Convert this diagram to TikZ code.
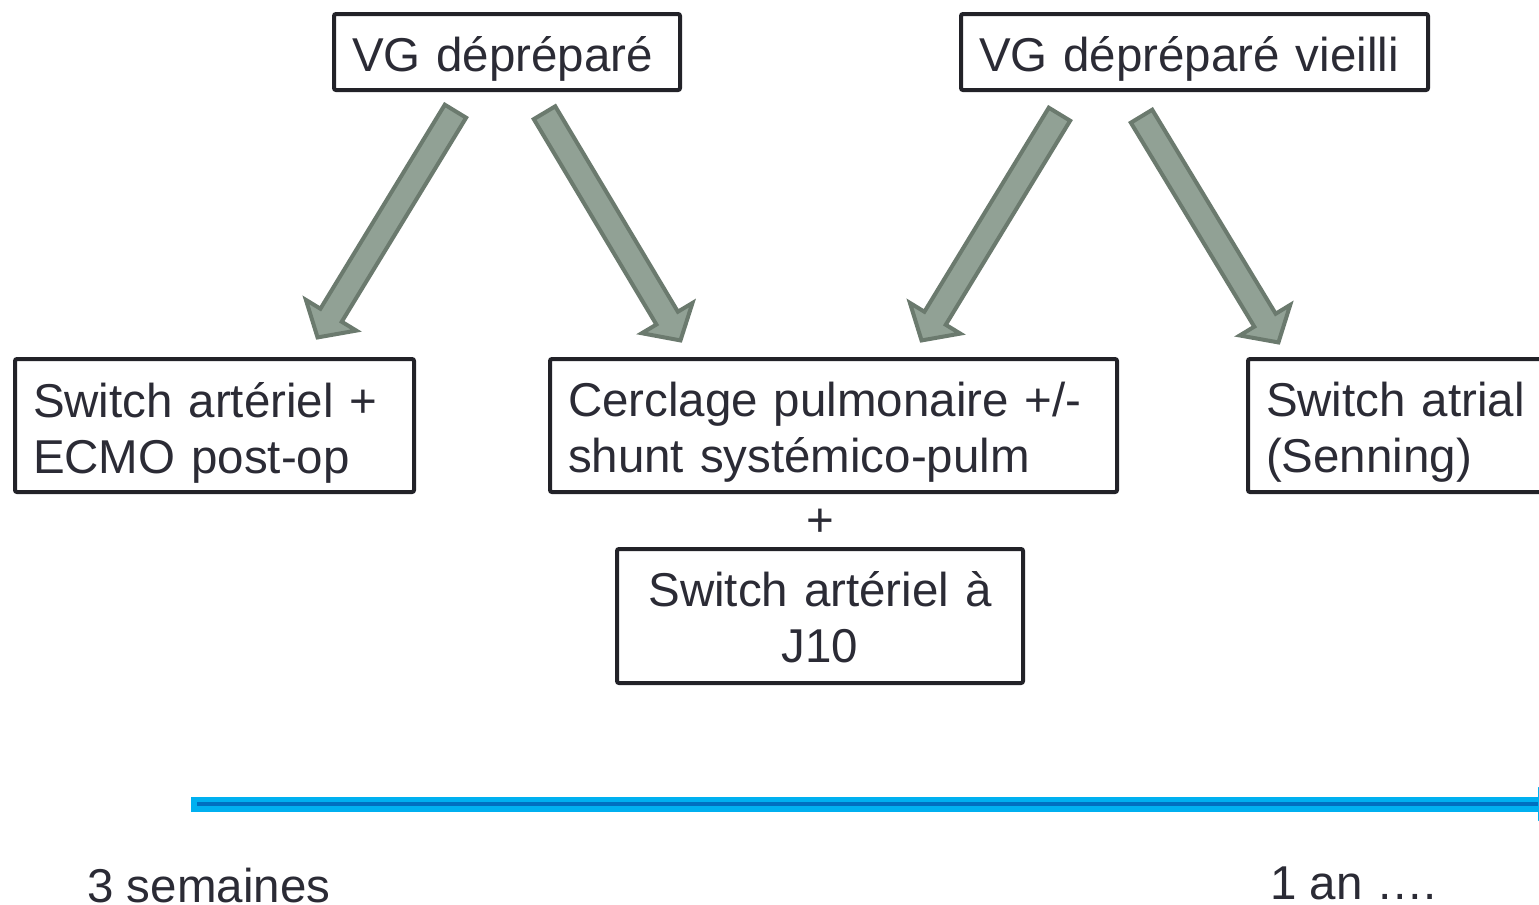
\documentclass[tikz,border=0pt]{standalone}
\usepackage{fontspec}
\setmainfont{Liberation Sans}
\usetikzlibrary{calc}
\definecolor{txt}{RGB}{43,43,53}
\definecolor{bord}{RGB}{34,34,40}
\definecolor{afill}{RGB}{145,161,149}
\definecolor{aline}{RGB}{107,122,110}
\definecolor{lblue}{RGB}{0,176,240}
\definecolor{dblue}{RGB}{0,112,192}
% #1 tail coordinate, #2 tip coordinate, #3 prefix for helper coordinates
\newcommand{\blockarr}[3]{%
  \coordinate (#3t) at ($(#1)!1pt!(#2)$);
  \coordinate (#3p) at ($(#2)!1.5pt!(#1)$);
  \coordinate (#3h) at ($(#3p)!13pt!(#3t)$);
  \draw[blockarrow] ($(#3t)!6.25pt!90:(#3p)$) -- ($(#3h)!6.25pt!90:(#3p)$)
    -- ($(#3h)!14.75pt!90:(#3p)$) -- (#3p) -- ($(#3h)!14.75pt!-90:(#3p)$)
    -- ($(#3h)!6.25pt!-90:(#3p)$) -- ($(#3t)!6.25pt!-90:(#3p)$) -- cycle;
}
\begin{document}
\begin{tikzpicture}[x=0.5pt,y=-0.5pt,
  font=\fontsize{23.75pt}{28pt}\selectfont, text=txt,
  box/.style={draw=bord, line width=2pt, rounded corners=1pt, inner sep=0pt},
  txtl/.style={inner xsep=0pt, inner ysep=0pt, align=left},
  txtc/.style={inner xsep=0pt, inner ysep=0pt, align=center},
  blockarrow/.style={fill=afill, draw=aline, line width=2pt, line join=miter},
  lbl/.style={inner sep=0pt, anchor=base west}]
\useasboundingbox (0,0) rectangle (1539,905);

% boxes
\node[box, minimum width=173pt, minimum height=38pt] (b1) at (507,52) {};
\node[box, minimum width=233.5pt, minimum height=38pt] (b2) at (1194.5,52) {};
\node[box, minimum width=199.5pt, minimum height=66.5pt] (b3) at (214.5,425.5) {};
\node[box, minimum width=283.5pt, minimum height=66.5pt] (b4) at (833.5,425.5) {};
\node[box, minimum width=203pt, minimum height=67pt] (b5) at (820,616) {};
\node[box, minimum width=160pt, minimum height=66.5pt] (b6) at (1408,425.5) {};

% box texts
\node[txtl, text width=155pt] (b1t) at ($(b1.center)+(0,7)$) {VG dépréparé};
\node[txtl, text width=215.5pt] (b2t) at ($(b2.center)+(0,7)$) {VG dépréparé vieilli};
\node[txtl, text width=181.5pt] (b3t) at ($(b3.center)+(0,7)$) {Switch artériel +\\ECMO post-op};
\node[txtl, text width=265.5pt] (b4t) at ($(b4.center)+(0,7)$) {Cerclage pulmonaire +/-\\shunt systémico-pulm};
\node[txtc, text width=185pt] (b5t) at ($(b5.center)+(0,1)$) {Switch artériel à\\J10};
\node[txtl, text width=142pt] (b6t) at ($(b6.center)+(0,7)$) {Switch atrial\\(Senning)};
\node[inner sep=0pt] (plus) at (820,523) {+};

% block arrows
\coordinate (a1s) at (456.5,109.5);  \coordinate (a1e) at (316,340);
\coordinate (a2s) at (543.5,111);    \coordinate (a2e) at (682,343);
\coordinate (a3s) at (1060.5,112.5); \coordinate (a3e) at (920,343);
\coordinate (a4s) at (1140.5,114.5); \coordinate (a4e) at (1280,345);
\blockarr{a1s}{a1e}{ka}
\blockarr{a2s}{a2e}{kb}
\blockarr{a3s}{a3e}{kc}
\blockarr{a4s}{a4e}{kd}

% timeline
\coordinate (tl0) at (191,804);
\coordinate (tl0i) at (197,804);
\coordinate (tl1) at (1539,804);
\draw[lblue, line width=7.5pt] (tl0) -- (tl1);
\draw[dblue, line width=2pt] (tl0i) -- (tl1);
\fill[lblue] (1538,787) -- (1580,804) -- (1538,821) -- cycle;

\node[lbl] (t1) at (87,902) {3 semaines};
\node[lbl] (t2) at (1270,899) {1 an ….};
\end{tikzpicture}
\end{document}
